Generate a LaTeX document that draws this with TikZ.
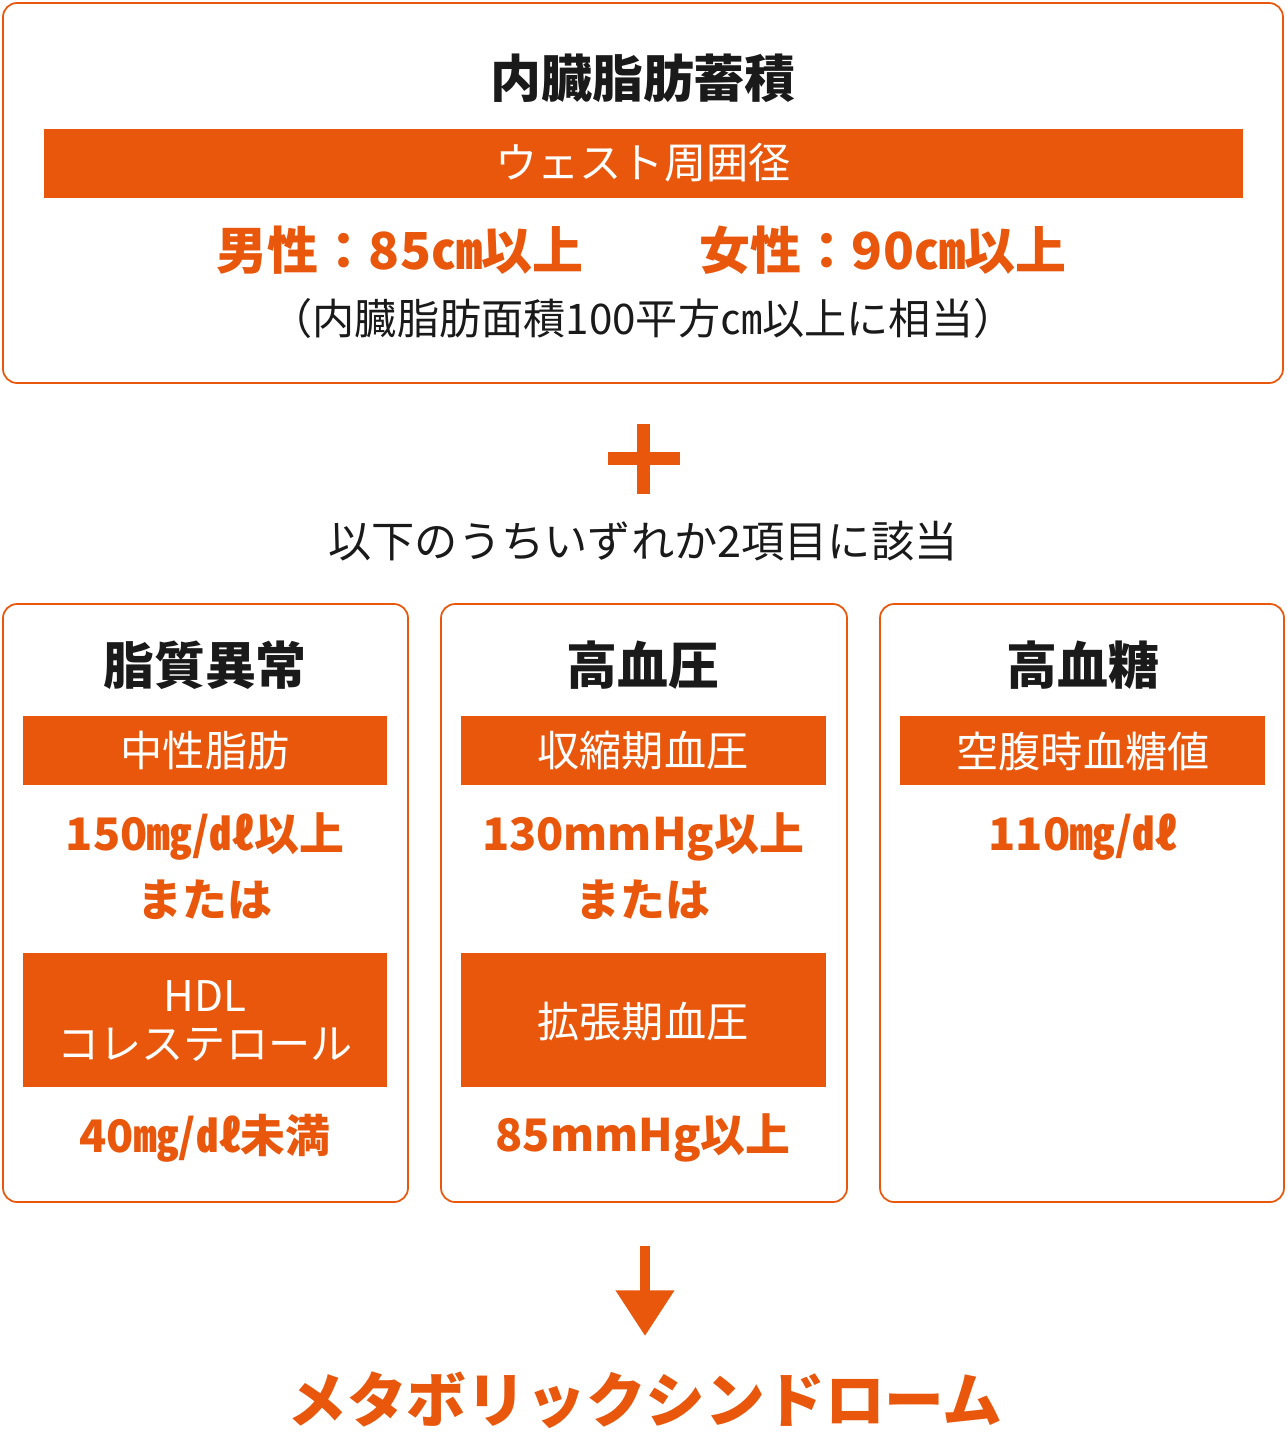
\documentclass[tikz,border=0pt]{standalone}
\usepackage{fontspec}
\usepackage{tikz}
\usetikzlibrary{arrows.meta}
\setmainfont{Noto Sans CJK JP}
\definecolor{metaorange}{HTML}{E8570C}
\definecolor{inkblack}{HTML}{1A1A1A}
\newcommand{\fsz}[1]{\fontsize{#1}{#1}\selectfont}

\tikzset{
  panel/.style = {draw=metaorange, line width=1pt, rounded corners=8pt},
  band/.style = {fill=metaorange},
  head/.style = {inner sep=0pt, font=\fsz{29pt}\bfseries, text=inkblack},
  bandtext/.style = {inner sep=0pt, font=\fsz{24pt}, text=white},
  value/.style = {inner sep=0pt, font=\fsz{25.5pt}\bfseries, text=metaorange},
  note/.style = {inner sep=0pt, font=\fsz{23pt}, text=inkblack},
}

\begin{document}
\begin{tikzpicture}[x=0.02cm, y=-0.02cm]
\useasboundingbox (0,0) rectangle (1286,1448);
\fill[white] (0,0) rectangle (1286,1448);

% upper box
\draw[panel] (3,3) rectangle (1283,383);
\node[head] (fat) at (643,78) {内臓脂肪蓄積};
\fill[band] (44,129) rectangle (1243,198);
\node[bandtext] (waist) at (643,163) {ウェスト周囲径};
\node[value, font=\fsz{29pt}\bfseries] (male) at (400,250) {男性：85㎝以上};
\node[value, font=\fsz{29pt}\bfseries] (female) at (883,250) {女性：90㎝以上};
\node[note, font=\fsz{24pt}] (area) at (643,318) {（内臓脂肪面積100平方㎝以上に相当）};

% plus
\fill[metaorange] (608,452) rectangle (680,465);
\fill[metaorange] (637,424) rectangle (650,494);
\node[note, font=\fsz{24.6pt}] (two) at (643,541) {以下のうちいずれか2項目に該当};

% three boxes
\draw[panel] (3,604) rectangle (408,1202);
\draw[panel] (441,604) rectangle (847,1202);
\draw[panel] (880,604) rectangle (1284,1202);

\fill[band] (23,716) rectangle (387,785);
\fill[band] (461,716) rectangle (826,785);
\fill[band] (900,716) rectangle (1265,785);
\fill[band] (23,953) rectangle (387,1087);
\fill[band] (461,953) rectangle (826,1087);

% lipid
\node[head] (lipid) at (205,665) {脂質異常};
\node[bandtext] (tg) at (205,751) {中性脂肪};
\node[value] (tgval) at (205,837) {150㎎/㎗以上};
\node[value] (or1) at (205,900) {または};
\node[bandtext, align=center, font=\fontsize{24pt}{27.5pt}\selectfont] (hdl) at (205,1021) {HDL\\コレステロール};
\node[value] (hdlval) at (205,1138) {40㎎/㎗未満};

% pressure
\node[head] (bp) at (643,665) {高血圧};
\node[bandtext] (sys) at (643,751) {収縮期血圧};
\node[value] (sysval) at (643,837) {130mmHg以上};
\node[value] (or2) at (643,900) {または};
\node[bandtext] (dia) at (643,1022) {拡張期血圧};
\node[value] (diaval) at (643,1138) {85mmHg以上};

% glucose
\node[head] (bg) at (1083,665) {高血糖};
\node[bandtext] (fast) at (1083,751) {空腹時血糖値};
\node[value] (fastval) at (1083,837) {110㎎/㎗};

% result
\coordinate (arrowtop) at (645,1246);
\coordinate (arrowtip) at (645,1336);
\draw[metaorange, line width=5.7pt, -{Triangle[width=32pt,length=26pt]}] (arrowtop) -- (arrowtip);
\node[value, font=\fsz{34pt}\bfseries] (metabo) at (645,1400) {メタボリックシンドローム};

\end{tikzpicture}
\end{document}
